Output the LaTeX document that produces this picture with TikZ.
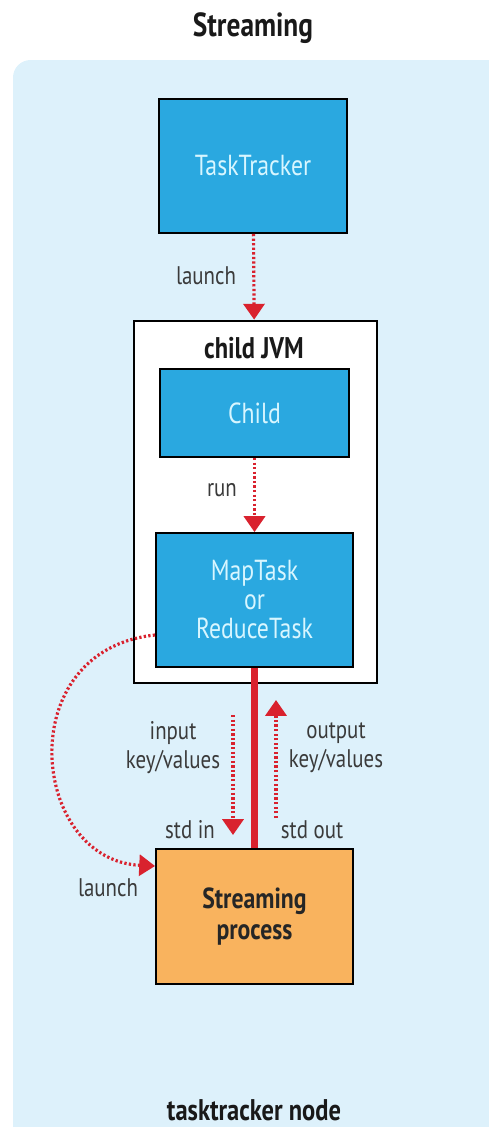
\documentclass[tikz,border=0pt]{standalone}
\usepackage{fontspec}
\setmainfont[FakeStretch=0.82]{PT Sans}
\usepackage{tikz}
\usetikzlibrary{arrows.meta}
\definecolor{nodebg}{HTML}{DDF1FB}
\definecolor{taskblue}{HTML}{2AA8E0}
\definecolor{tasktext}{HTML}{D8F6FF}
\definecolor{procorange}{HTML}{F9B35E}
\definecolor{arrowred}{HTML}{D9222E}
\definecolor{labelgray}{HTML}{3A3A3A}
\tikzstyle{task} = [rectangle, draw=black, line width=1.1pt, fill=taskblue, text=tasktext, font=\fontsize{16.5}{16.5}\selectfont, align=center]
\tikzstyle{jvm} = [rectangle, draw=black, line width=1.6pt, fill=white, minimum width=4.86cm, minimum height=7.24cm]
\tikzstyle{process} = [rectangle, draw=black, line width=1.1pt, fill=procorange, text=black!85, font=\bfseries\fontsize{16.5}{18}\selectfont, align=center, minimum width=3.94cm, minimum height=2.7cm]
\tikzstyle{heading} = [font=\bfseries\fontsize{17}{20}\selectfont, text=black!90]
\tikzstyle{tag} = [font=\fontsize{14.5}{16.5}\selectfont, text=labelgray, align=center]
\tikzstyle{dotarrow} = [arrowred, line width=1.8pt, dash pattern=on 1.3pt off 1.3pt, -{Triangle[width=12pt, length=9pt]}]
\tikzstyle{pipe} = [arrowred, line width=4.3pt]

\begin{document}
\begin{tikzpicture}[x=0.02cm, y=-0.02cm]
\useasboundingbox (0,0) rectangle (489,1127);
\fill [nodebg, rounded corners=10pt] (13,60) rectangle (520,1160);

\node (title) [heading, font=\bfseries\fontsize{19}{22}\selectfont] at (253,28) {Streaming};
\node (tracker) [task, minimum width=3.76cm, minimum height=2.68cm] at (253,166) {TaskTracker};
\node (jvm) [jvm] at (255.5,502) {};
\node (jvmtitle) [heading] at (254,348) {child JVM};
\node (child) [task, minimum width=3.78cm, minimum height=1.76cm] at (254.5,413) {Child};
\node (task) [task, minimum width=3.94cm, minimum height=2.68cm] at (254.5,600) {MapTask\\or\\ReduceTask};
\node (stream) [process] at (254.5,916.5) {Streaming\\process};
\node (host) [heading] at (254,1110) {tasktracker node};

\node (launchtop) [tag] at (206,276) {launch};
\node (run) [tag] at (222,490) {run};
\node (input) [tag] at (173,748) {input\\key/values};
\node (output) [tag] at (336,748) {output\\key/values};
\node (stdin) [tag] at (190,830) {std in};
\node (stdout) [tag] at (312,830) {std out};
\node (launchlow) [tag] at (108,888) {launch};

\coordinate (infrom) at (233,715);
\coordinate (into) at (233,835);
\coordinate (outfrom) at (276,818);
\coordinate (outto) at (276,700);

\draw [dotarrow] (tracker) -- (jvm);
\draw [dotarrow] (child) -- (task);
\draw [pipe] (task) -- (stream);
\draw [dotarrow] (infrom) -- (into);
\draw [dotarrow] (outfrom) -- (outto);
\draw [dotarrow] (task.west |- 0,635) .. controls (10,650) and (30,860) .. (stream.west |- 0,866);

\end{tikzpicture}
\end{document}
